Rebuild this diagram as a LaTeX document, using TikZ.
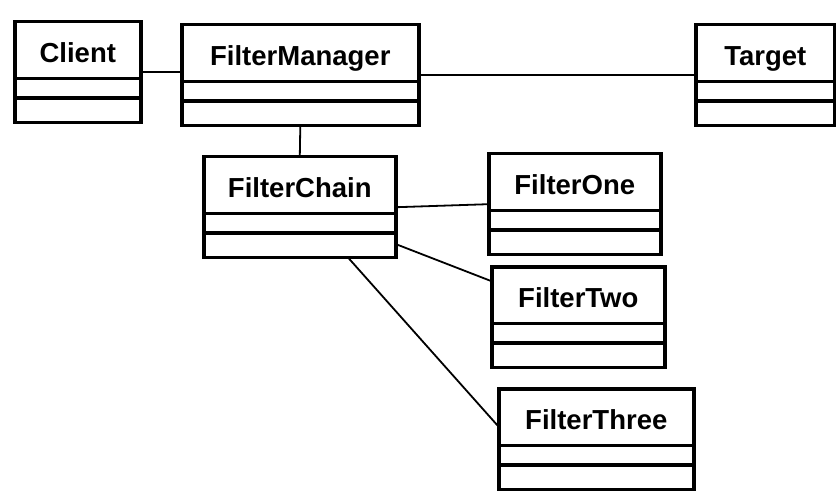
\documentclass[tikz,border=0pt]{standalone}
\usepackage{fontspec}
\setmainfont{Liberation Sans}
\usetikzlibrary{shapes.multipart,calc}
% class box: title part, attribute part, operation part
\newcommand{\umlclass}[1]{#1\rule[-15pt]{0pt}{55pt}\nodepart{two}\rule{0pt}{18pt}\nodepart{three}\rule{0pt}{23pt}}
\begin{document}
\begin{tikzpicture}[x=1pt,y=-1pt,
    cls/.style = {rectangle split, rectangle split parts=3, draw, line width=1.6pt,
      inner xsep=0pt, inner ysep=0pt, anchor=north west,
      font=\fontsize{27.5}{30}\selectfont\bfseries,
      postaction={draw, line width=3.4pt}},
    link/.style = {line width=1.8pt}]
  \useasboundingbox (0,0) rectangle (836,500);
  \node[cls, minimum width=126pt] (client) at (14,21) {\umlclass{Client}};
  \node[cls, minimum width=237pt] (manager) at (181,24) {\umlclass{FilterManager}};
  \node[cls, minimum width=139pt] (target) at (695,24) {\umlclass{Target}};
  \node[cls, minimum width=192pt] (chain) at (203,156) {\umlclass{FilterChain}};
  \node[cls, minimum width=172pt] (one) at (488,153) {\umlclass{FilterOne}};
  \node[cls, minimum width=173pt] (two) at (491,266) {\umlclass{FilterTwo}};
  \node[cls, minimum width=195pt] (three) at (498,388) {\umlclass{FilterThree}};
  \draw[link] (client.east) -- (client.east -| manager.west);
  \draw[link] (manager.east) -- (target.west);
  \draw[link] (manager.south) -- (chain.north);
  \draw[link] (chain.east) -- (one.west);
  \draw[link] ($(chain.south east)+(0,-14)$) -- ($(two.north west)+(0,15)$);
  \draw[link] ($(chain.south)+(49,0)$) -- ($(three.north west)+(0,38)$);
\end{tikzpicture}
\end{document}
